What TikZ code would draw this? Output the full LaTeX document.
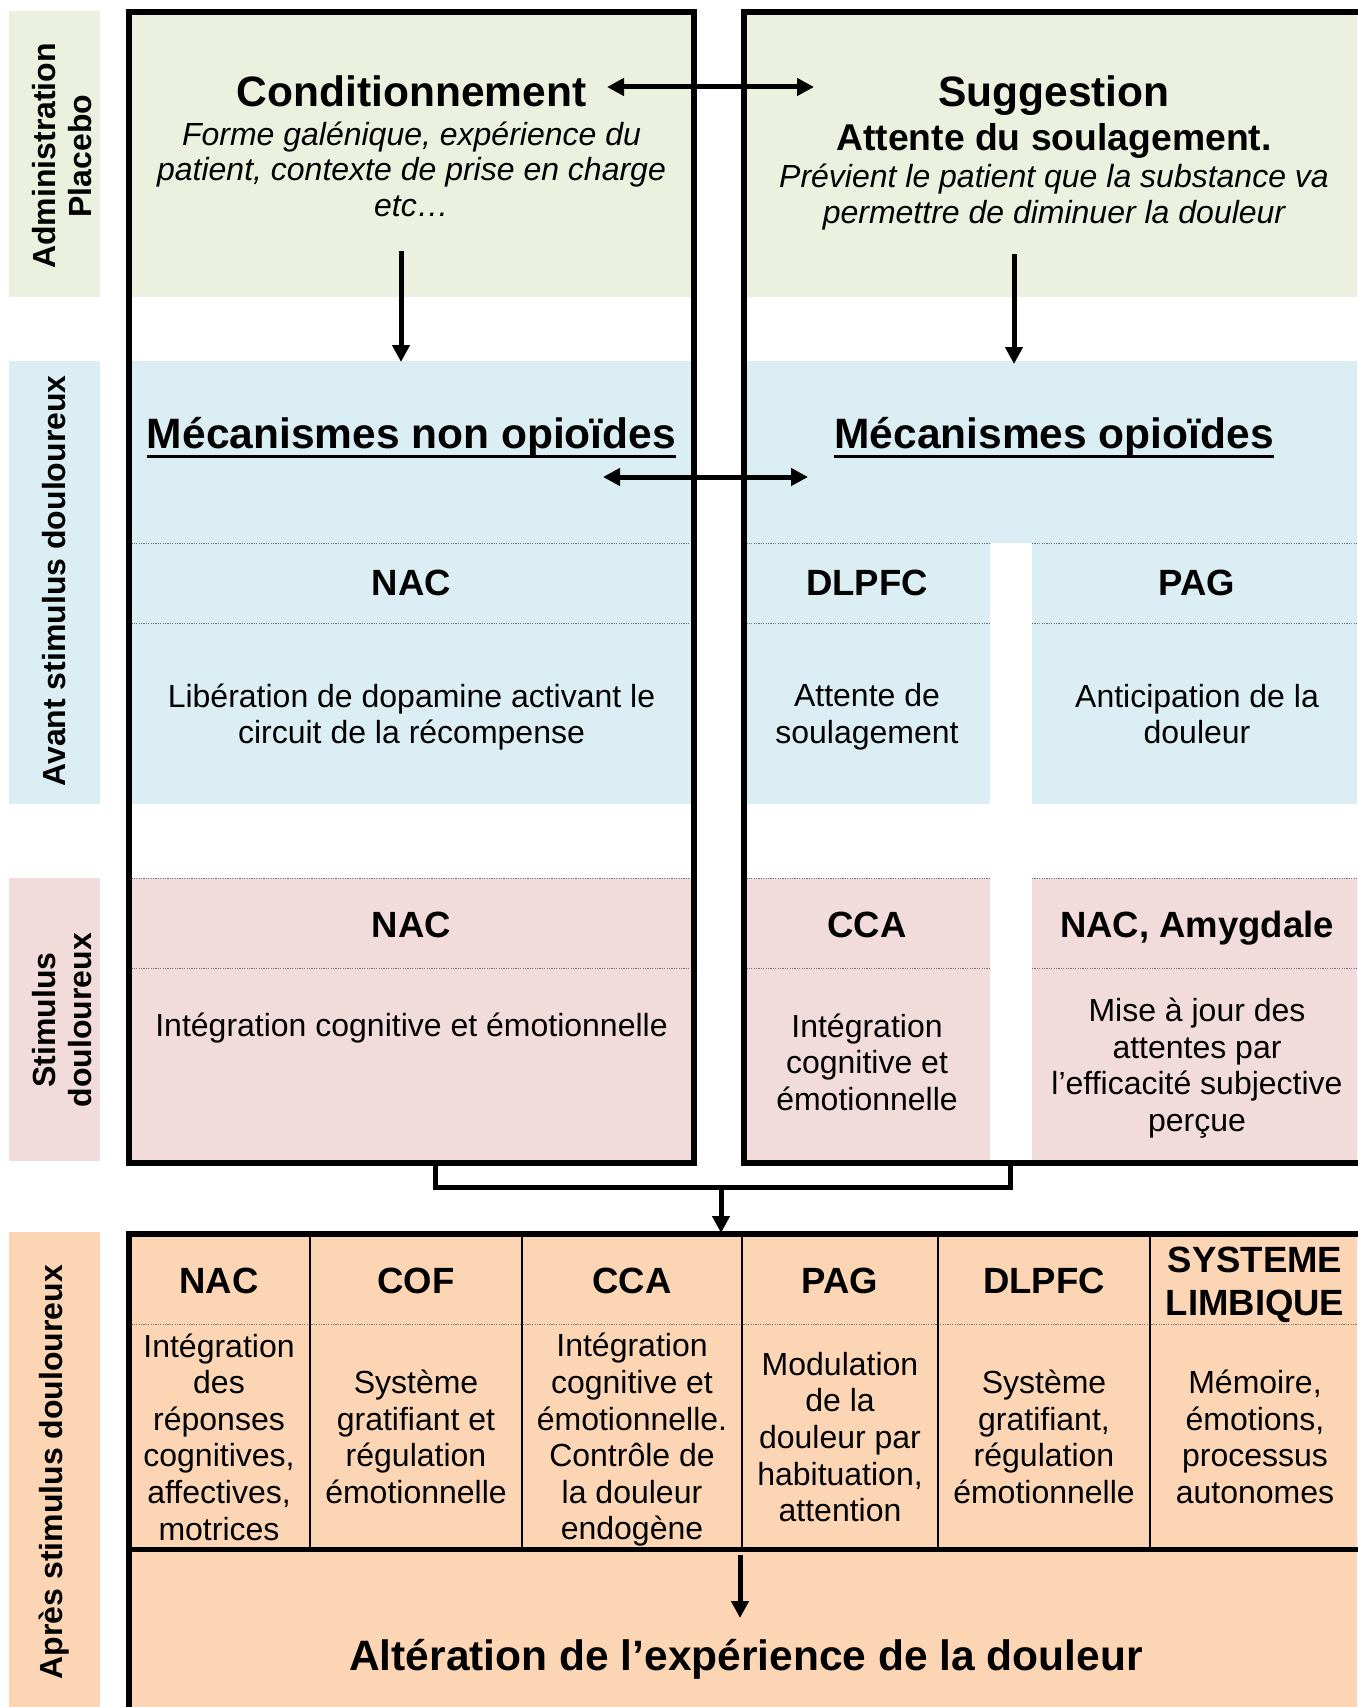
\documentclass[tikz,border=0pt]{standalone}
\usepackage{fontspec}
\setmainfont{Liberation Sans}
\usetikzlibrary{arrows.meta}
\definecolor{cgreen}{HTML}{EBF1DE}
\definecolor{cblue}{HTML}{DBEEF4}
\definecolor{cpink}{HTML}{F2DCDB}
\definecolor{corange}{HTML}{FCD5B5}
\begin{document}
\begin{tikzpicture}[x=1pt,y=-1pt,
  every node/.style={inner sep=0pt, outer sep=0pt},
  title/.style={font=\fontsize{42.5}{48}\selectfont\bfseries},
  subtitle/.style={font=\fontsize{37.3}{42}\selectfont\bfseries},
  itext/.style={font=\fontsize{32}{35.5}\selectfont\itshape, align=center},
  head/.style={font=\fontsize{36.5}{43}\selectfont\bfseries, align=center},
  body/.style={font=\fontsize{32}{36.6}\selectfont, align=center},
  lbl/.style={font=\fontsize{32}{36}\selectfont\bfseries, align=center, rotate=90},
  frame/.style={line width=5.5pt},
  tline/.style={line width=5pt},
  sepline/.style={line width=2pt},
  dots/.style={black!55, line width=1pt, dash pattern=on 1.2pt off 1.2pt},
  arr/.style={line width=5pt, -{Triangle[width=17pt,length=17pt]}},
  darr/.style={line width=5pt, {Triangle[width=17pt,length=17pt]}-{Triangle[width=17pt,length=17pt]}},
]
\useasboundingbox (0,0) rectangle (1357,1707);

% ---- left strips
\fill[cgreen] (9,11) rectangle (100,297);
\fill[cblue] (9,361) rectangle (100,804);
\fill[cpink] (9,878) rectangle (100,1161);
\fill[corange] (9,1232) rectangle (100,1707);
\node[lbl] (lab1) at (62,156) {Administration\\Placebo};
\node[lbl] (lab2) at (54,581) {Avant stimulus douloureux};
\node[lbl] (lab3) at (62,1020) {Stimulus\\douloureux};
\node[lbl] (lab4) at (54,1472) {Après stimulus douloureux};

% ---- fills inside frames
\fill[cgreen] (129,12) rectangle (694,297);
\fill[cgreen] (744,12) rectangle (1357,297);
\fill[cblue] (129,361) rectangle (694,804);
\fill[cblue] (744,361) rectangle (1357,543);
\fill[cblue] (744,543) rectangle (990,804);
\fill[cblue] (1032,543) rectangle (1357,804);
\fill[cpink] (129,878) rectangle (694,1161);
\fill[cpink] (744,878) rectangle (990,1161);
\fill[cpink] (1032,878) rectangle (1357,1161);
\fill[corange] (129,1232) rectangle (1357,1707);

% ---- dotted separators
\foreach \yy in {543,623,878,968}{
  \draw[dots] (129,\yy) -- (694,\yy);
  \draw[dots] (744,\yy) -- (990,\yy);
  \draw[dots] (1032,\yy) -- (1357,\yy);
}
\draw[dots] (129,1324) -- (1357,1324);

% ---- frames
\draw[frame] (129,12) rectangle (694,1163);
\draw[frame] (1375,12) -| (744,1163) -- (1375,1163);

% ---- bottom table
\foreach \xx in {310,522,742,938,1150}{
  \draw[sepline] (\xx,1234) -- (\xx,1549);
}
\draw[frame] (129,1712) -- (129,1234) -- (1375,1234);
\draw[tline] (129,1549) -- (1375,1549);

% ---- top texts
\node[title, anchor=base] (cond) at (411.5,106.5) {Conditionnement};
\node[itext] (condtxt) at (411.5,169) {Forme galénique, expérience du\\patient, contexte de prise en charge\\etc…};
\node[title, anchor=base] (sugg) at (1054,106.5) {Suggestion};
\node[subtitle, anchor=base] (att) at (1054,150.5) {Attente du soulagement.};
\node[itext] (suggtxt) at (1054,197) {Prévient le patient que la substance va\\permettre de diminuer la douleur};

% ---- mechanisms
\node[title, anchor=base] (mnon) at (411.5,448) {Mécanismes non opioïdes};
\node[title, anchor=base] (mop) at (1054,448) {Mécanismes opioïdes};
\draw[line width=3pt] ([yshift=-8pt]mnon.base west) -- ([yshift=-8pt]mnon.base east);
\draw[line width=3pt] ([yshift=-8pt]mop.base west) -- ([yshift=-8pt]mop.base east);

% ---- blue row
\node[head, anchor=base] (h1) at (411.5,595) {NAC};
\node[head, anchor=base] (h2) at (867,595) {DLPFC};
\node[head, anchor=base] (h3) at (1197,595) {PAG};
\node[body] (b1) at (411.5,717) {Libération de dopamine activant le\\circuit de la récompense};
\node[body] (b2) at (867,717) {Attente de\\soulagement};
\node[body] (b3) at (1197,714) {Anticipation de la\\douleur};

% ---- pink row
\node[head, anchor=base] (h4) at (411.5,937) {NAC};
\node[head, anchor=base] (h5) at (867,937) {CCA};
\node[head, anchor=base] (h6) at (1197,937) {NAC, Amygdale};
\node[body, anchor=base] (b4) at (411.5,1036) {Intégration cognitive et émotionnelle};
\node[body] (b5) at (867,1062) {Intégration\\cognitive et\\émotionnelle};
\node[body] (b6) at (1197,1068) {Mise à jour des\\attentes par\\l’efficacité subjective\\perçue};

% ---- bottom table headers
\node[head, anchor=base] (t1) at (219,1293) {NAC};
\node[head, anchor=base] (t2) at (416,1293) {COF};
\node[head, anchor=base] (t3) at (632,1293) {CCA};
\node[head, anchor=base] (t4) at (840,1293) {PAG};
\node[head, anchor=base] (t5) at (1044,1293) {DLPFC};
\node[head] (t6) at (1255,1284.5) {SYSTEME\\LIMBIQUE};

% ---- bottom table bodies
\node[body] (u1) at (219,1437) {Intégration\\des\\réponses\\cognitives,\\affectives,\\motrices};
\node[body] (u2) at (416,1437) {Système\\gratifiant et\\régulation\\émotionnelle};
\node[body] (u3) at (632,1440) {Intégration\\cognitive et\\émotionnelle.\\Contrôle de\\la douleur\\endogène};
\node[body] (u4) at (840,1437) {Modulation\\de la\\douleur par\\habituation,\\attention};
\node[body] (u5) at (1044,1437) {Système\\gratifiant,\\régulation\\émotionnelle};
\node[body] (u6) at (1255,1437) {Mémoire,\\émotions,\\processus\\autonomes};

\node[title, anchor=base] (alt) at (746,1670) {Altération de l’expérience de la douleur};

% ---- connectors
\coordinate (c1) at (607,87);
\coordinate (c2) at (814,87);
\draw[darr] (c1) -- (c2);
\coordinate (m1) at (603,477);
\coordinate (m2) at (808,477);
\draw[darr] (m1) -- (m2);

\coordinate (d1s) at (401,251);
\coordinate (d1e) at (401,362);
\draw[arr] (d1s) -- (d1e);
\coordinate (d2s) at (1014,254);
\coordinate (d2e) at (1014,364);
\draw[arr] (d2s) -- (d2e);

\coordinate (bL) at (435,1163);
\coordinate (bR) at (1010,1163);
\coordinate (bJ) at (721,1187);
\coordinate (tabtop) at (721,1233);
\draw[tline] (bL) |- (bJ) -| (bR);
\draw[arr] (bJ) -- (tabtop);

\coordinate (a1) at (740,1555);
\coordinate (a2) at (740,1618);
\draw[arr] (a1) -- (a2);
\end{tikzpicture}
\end{document}
